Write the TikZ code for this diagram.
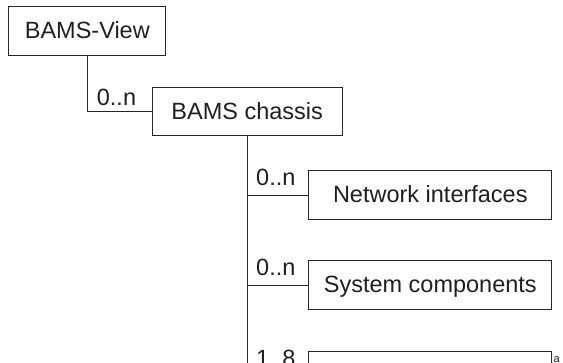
\documentclass[tikz,border=0pt]{standalone}
\usepackage{fontspec}
\setmainfont{Liberation Sans}
\begin{document}
\begin{tikzpicture}[x=1pt,y=-1pt,
  ink/.style={draw=black!85, line width=1pt},
  box/.style={ink, rectangle, inner sep=0pt, text=black!88,
    font=\fontsize{23.5}{26}\selectfont,
    text height=16.5pt, text depth=1.5pt, minimum height=48.5pt},
  mult/.style={anchor=base west, inner sep=0pt, text=black!88,
    font=\fontsize{23.5}{26}\selectfont},
  link/.style={ink, line cap=rect}]
  \useasboundingbox (0,0) rectangle (563,362);
  \clip (0,0) rectangle (563,362);

  % class boxes
  \node[box, minimum width=156.7pt] (view)    at (87.3,31)    {BAMS-View};
  \node[box, minimum width=189.7pt] (chassis) at (247.2,111.7) {BAMS chassis};
  \node[box, minimum width=242.7pt] (net)     at (430.3,195)  {Network interfaces};
  \node[box, minimum width=242.7pt] (sys)     at (430.3,285.2) {System components};
  \node[box, minimum width=242.7pt] (third)   at (430.3,375.7) {};

  % aggregation links
  \draw[link] (view.south) |- (chassis.west);
  \draw[link] (chassis.south) |- (net.west);
  \draw[link] (chassis.south) |- (sys.west);
  \draw[link] (chassis.south) |- (third.west);

  % multiplicities
  \node[mult] (m1) at (96.7,105)  {0..n};
  \node[mult] (m2) at (256,185)   {0..n};
  \node[mult] (m3) at (256,275.2) {0..n};
  \node[mult] (m4) at (256,366.2) {1..8};

  % footnote mark beside the last box
  \node[anchor=base west, inner sep=0pt, text=black!88,
    font=\fontsize{11}{12}\selectfont] (fn) at (553.5,362.5) {a};
\end{tikzpicture}
\end{document}
